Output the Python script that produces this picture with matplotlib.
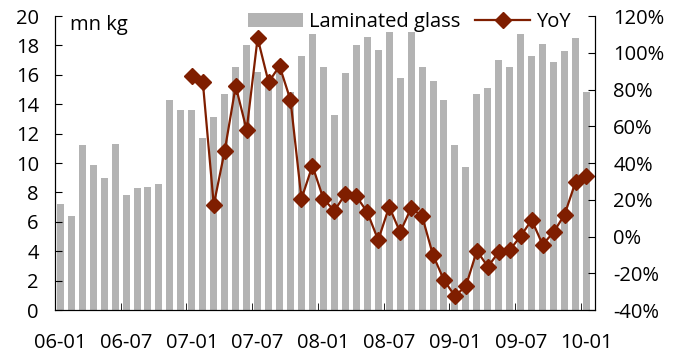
import numpy as np
import matplotlib
matplotlib.use('Agg')
import matplotlib.pyplot as plt
from matplotlib.ticker import FuncFormatter, MultipleLocator

plt.rcParams['font.family'] = ['Open Sans', 'DejaVu Sans']

# monthly data, 06-01 .. 10-01
glass = [7.2, 6.4, 11.2, 9.9, 9.0, 11.3, 7.8, 8.3, 8.4, 8.6,
         14.3, 13.6, 13.6, 11.7, 13.1, 14.7, 16.5, 18.0, 16.2, 15.6,
         16.2, 14.8, 17.3, 18.8, 16.5, 13.3, 16.1, 18.0, 18.6, 17.7,
         18.9, 15.8, 18.9, 16.5, 15.6, 14.3, 11.2, 9.7, 14.7, 15.1,
         17.0, 16.5, 18.8, 17.3, 18.1, 16.9, 17.6, 18.5, 14.8]

# YoY (%) starts at 07-01
yoy_start = 12
yoy = [87.3, 84.2, 17.3, 46.7, 81.9, 58.0, 108.0, 84.0, 92.8, 74.3,
       20.6, 38.5, 20.6, 14.0, 23.1, 22.0, 13.3, -1.9, 16.2, 2.4,
       15.5, 11.2, -10.1, -23.7, -32.4, -26.9, -7.7, -16.4, -8.4, -7.3,
       0.3, 9.0, -4.4, 2.4, 11.9, 29.7, 33.0]

tick_labels = ['06-01', '06-07', '07-01', '07-07', '08-01',
               '08-07', '09-01', '09-07', '10-01']

bar_color = '#b3b3b3'
line_color = '#7f1e00'
fs = 14.5

fig = plt.figure(figsize=(6.85, 3.56), dpi=100)
ax = fig.add_axes([0.080, 0.129, 0.789, 0.826])
ax2 = ax.twinx()

x = np.arange(len(glass))
bars = ax.bar(x, glass, width=0.64, color=bar_color, label='Laminated glass')
xy = np.arange(yoy_start, yoy_start + len(yoy))
ln, = ax2.plot(xy, yoy, color=line_color, lw=1.6, marker='D', ms=8,
               label='YoY')

ax.set_xlim(-0.5, 48.8)
ax.set_ylim(0, 20)
ax.yaxis.set_major_locator(MultipleLocator(2))
ax2.set_ylim(-40, 120)
ax2.yaxis.set_major_locator(MultipleLocator(20))
ax2.yaxis.set_major_formatter(FuncFormatter(lambda v, p: '%d%%' % v))

# labels at month centres, ticks on boundaries
ax.set_xticks(np.arange(0, len(glass), 6))
ax.set_xticklabels(tick_labels)
ax.set_xticks(np.arange(5.5, len(glass), 6), minor=True)
ax.tick_params(axis='x', which='major', length=0, pad=16.5)
ax.tick_params(axis='x', which='minor', direction='in', length=5)
ax.tick_params(axis='y', direction='in', length=5, pad=11.5)
ax2.tick_params(axis='y', direction='in', length=5, pad=13)
for a in (ax, ax2):
    a.tick_params(labelsize=fs, colors='black')
    a.spines['top'].set_visible(False)

ax.text(0.028, 1.005, 'mn kg', transform=ax.transAxes, fontsize=fs,
        va='top', ha='left')

ax.legend([bars, ln], ['Laminated glass', 'YoY'], loc='center right',
          bbox_to_anchor=(0.954, 0.98), ncol=2, frameon=False, fontsize=fs,
          handlelength=2.7, handletextpad=0.3, columnspacing=0.75,
          borderaxespad=0, borderpad=0)

fig.savefig('out.png', dpi=100)
